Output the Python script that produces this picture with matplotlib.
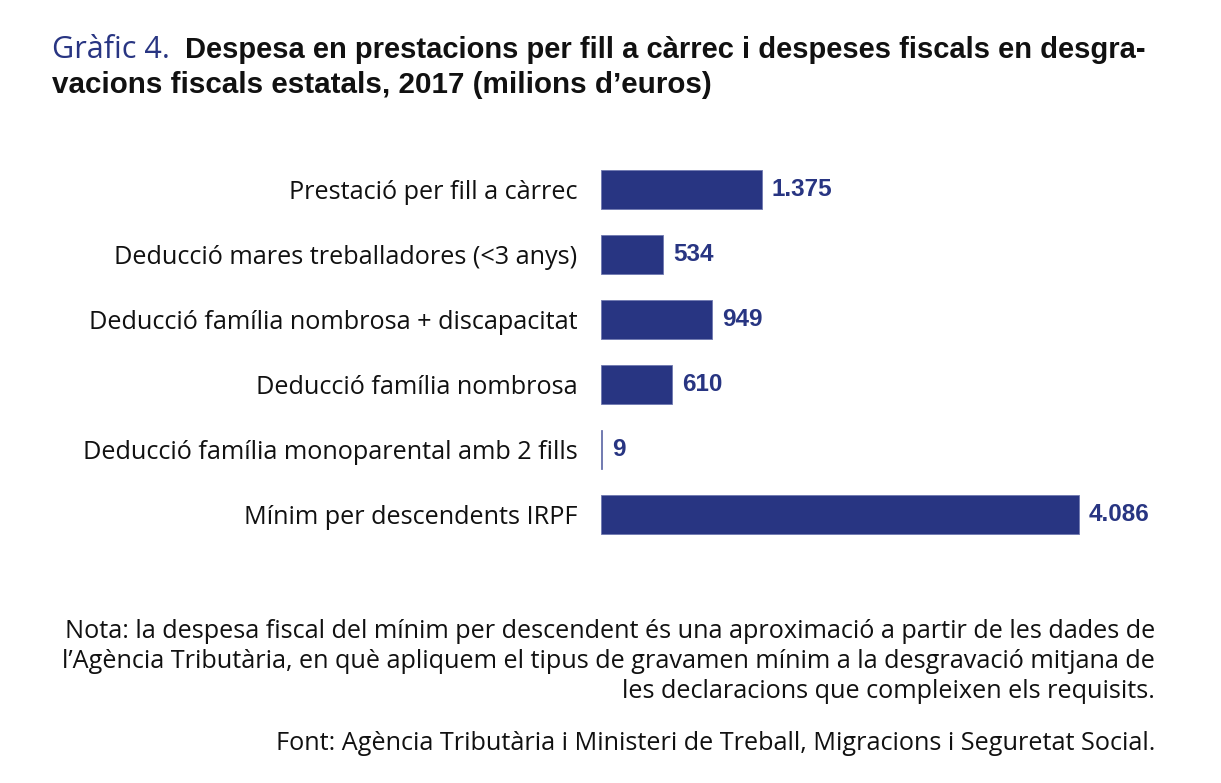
import matplotlib
matplotlib.use("Agg")
import matplotlib.pyplot as plt

categories = [
    "Prestació per fill a càrrec",
    "Deducció mares treballadores (<3 anys)",
    "Deducció família nombrosa + discapacitat",
    "Deducció família nombrosa",
    "Deducció família monoparental amb 2 fills",
    "Mínim per descendents IRPF",
]
values = [1375, 534, 949, 610, 9, 4086]
value_labels = ["1.375", "534", "949", "610", "9", "4.086"]

title_prefix = "Gràfic 4."
title_line1 = "Despesa en prestacions per fill a càrrec i despeses fiscals en desgra-"
title_line2 = "vacions fiscals estatals, 2017 (milions d’euros)"
note_lines = [
    "Nota: la despesa fiscal del mínim per descendent és una aproximació a partir de les dades de",
    "l’Agència Tributària, en què apliquem el tipus de gravamen mínim a la desgravació mitjana de",
    "les declaracions que compleixen els requisits.",
]
source = "Font: Agència Tributària i Ministeri de Treball, Migracions i Seguretat Social."

NAVY = "#283582"
REG = ["Open Sans", "DejaVu Sans"]
BOLD = ["Liberation Sans", "DejaVu Sans"]
plt.rcParams["font.family"] = REG

W, H = 1221, 783
fig = plt.figure(figsize=(W / 100, H / 100), dpi=100)

ax_left, ax_top, ax_bottom = 601, 157, 547
xmax = 4800
px_per_unit = 478 / 4086
ax_w = xmax * px_per_unit
ax = fig.add_axes([ax_left / W, 1 - ax_bottom / H, ax_w / W, (ax_bottom - ax_top) / H])

y = list(range(len(categories)))
ax.barh(y, values, height=0.6, color=NAVY, edgecolor="#6f78b0", linewidth=0.6)
ax.set_xlim(0, xmax)
ax.set_ylim(len(categories) - 0.5, -0.5)
ax.set_yticks(y)
ax.set_yticklabels(categories, fontsize=18.2, color="#111111", family=REG)
ax.tick_params(axis="y", length=0, pad=17)
ax.set_xticks([])
for s in ax.spines.values():
    s.set_visible(False)

for yi, v, lab in zip(y, values, value_labels):
    ax.annotate(lab, (v, yi), xytext=(7, 0), textcoords="offset points",
                ha="left", va="center", fontsize=17.5, fontweight="bold",
                color=NAVY, family=BOLD)

fig.text(52 / W, 1 - 58 / H, title_prefix, fontsize=22, color=NAVY,
         ha="left", va="baseline", family=REG)
fig.text(185 / W, 1 - 58 / H, title_line1, fontsize=21, fontweight="bold",
         color="#111111", ha="left", va="baseline", family=BOLD)
fig.text(52 / W, 1 - 93 / H, title_line2, fontsize=21.3, fontweight="bold",
         color="#111111", ha="left", va="baseline", family=BOLD)

for i, line in enumerate(note_lines):
    fig.text(1155 / W, 1 - (638 + 30 * i) / H, line, fontsize=18.2, color="#111111",
             ha="right", va="baseline", family=REG)
fig.text(1155 / W, 1 - 750 / H, source, fontsize=18.2, color="#111111",
         ha="right", va="baseline", family=REG)

fig.savefig("out.png", dpi=100, facecolor="white")
